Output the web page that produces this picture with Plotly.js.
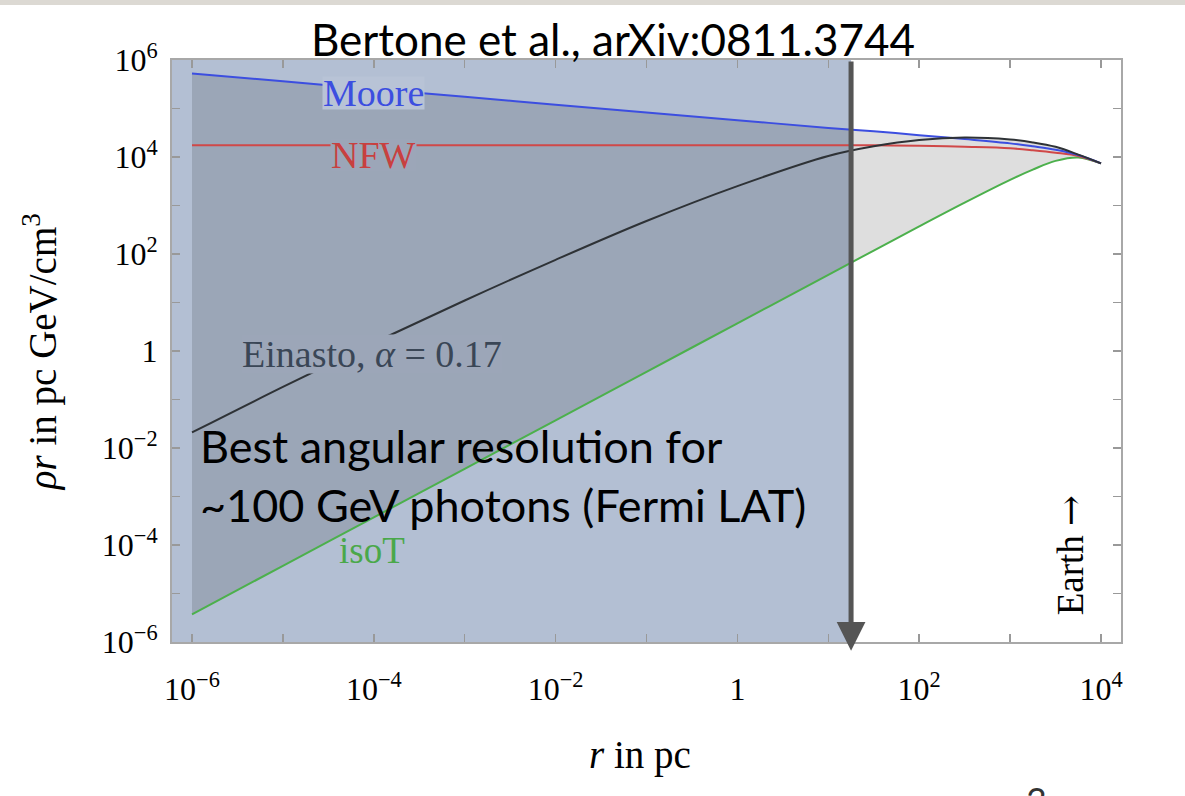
<!DOCTYPE html>
<html>
<head>
<meta charset="utf-8">
<script src="https://cdn.plot.ly/plotly-3.0.1.min.js"></script>
<style>
  html, body { margin: 0; padding: 0; background: #ffffff; }
  #chart { width: 1185px; height: 796px; }
</style>
</head>
<body>
<div id="chart"></div>
<script>
// Galactocentric radius r in pc (common grid for all profiles)
const radius = [1e-6, 1e-5, 1e-4, 1e-3, 1e-2, 1e-1, 1, 10, 31.6, 100, 316, 1000, 1778, 3162, 5623, 10000];

// rho * r in pc GeV/cm^3 for each dark-matter halo profile
const moore   = [5.25e5, 3.63e5, 2.51e5, 1.74e5, 1.20e5, 8.3e4, 5.75e4, 3.98e4, 3.39e4, 2.82e4, 2.34e4, 1.91e4, 1.66e4, 1.41e4, 1.10e4, 7.4e3];
const nfw     = [1.74e4, 1.74e4, 1.74e4, 1.74e4, 1.74e4, 1.74e4, 1.74e4, 1.74e4, 1.74e4, 1.70e4, 1.62e4, 1.51e4, 1.38e4, 1.23e4, 1.05e4, 7.4e3];
const einasto = [2.09e-2, 0.182, 1.48, 11.0, 75.9, 479, 2512, 1.05e4, 1.66e4, 2.24e4, 2.51e4, 2.29e4, 2.0e4, 1.62e4, 1.12e4, 7.4e3];
const isoT    = [3.72e-6, 3.72e-5, 3.72e-4, 3.72e-3, 3.72e-2, 0.372, 3.72, 37.2, 117.6, 372, 1148, 3388, 5495, 8318, 9772, 7.4e3];

// Radius below which the LAT angular resolution cannot resolve structure (pc)
const fermiCutoff = 17.8;

// Axis ticks: every decade, labelled every second decade
const xTickVals = [1e-6, 1e-5, 1e-4, 1e-3, 1e-2, 1e-1, 1, 10, 100, 1000, 10000];
const xTickText = ['10<sup>−6</sup>', '', '10<sup>−4</sup>', '', '10<sup>−2</sup>', '', '1', '', '10<sup>2</sup>', '', '10<sup>4</sup>'];
const yTickVals = [1e-6, 1e-5, 1e-4, 1e-3, 1e-2, 1e-1, 1, 10, 100, 1000, 1e4, 1e5, 1e6];
const yTickText = ['10<sup>−6</sup>', '', '10<sup>−4</sup>', '', '10<sup>−2</sup>', '', '1', '', '10<sup>2</sup>', '', '10<sup>4</sup>', '', '10<sup>6</sup>'];

// Upper envelope of the profiles bounds the shaded band
const upper = radius.map((_, i) => Math.max(moore[i], nfw[i], einasto[i], isoT[i]));

const serif = 'Liberation Serif, Times New Roman, serif';
const sans = 'Lato, Open Sans, sans-serif';

const panelColor = '#b3bfd3';      // translucent panel over white
const panelBandColor = '#9ca6b8';  // panel seen through the shaded band

const traces = [
  { x: radius, y: isoT, mode: 'lines', line: { width: 0, shape: 'spline' }, hoverinfo: 'skip', showlegend: false },
  { x: radius, y: upper, mode: 'lines', fill: 'tonexty', fillcolor: 'rgba(0,0,0,0.13)',
    line: { width: 0, shape: 'spline' }, hoverinfo: 'skip', showlegend: false },
  { name: 'isoT', x: radius, y: isoT, mode: 'lines', line: { color: '#4cb04c', width: 2, shape: 'spline' } },
  { name: 'NFW', x: radius, y: nfw, mode: 'lines', line: { color: '#d04848', width: 2, shape: 'spline' } },
  { name: 'Moore', x: radius, y: moore, mode: 'lines', line: { color: '#3c4ee0', width: 2, shape: 'spline' } },
  { name: 'Einasto', x: radius, y: einasto, mode: 'lines', line: { color: '#2e3236', width: 2, shape: 'spline' } }
];

const lg = Math.log10;

const annotations = [
  { text: 'Bertone et al., arXiv:0811.3744', xref: 'paper', yref: 'paper', x: 0.465, y: 1.0, yshift: -7,
    xanchor: 'center', yanchor: 'bottom', showarrow: false, font: { family: sans, size: 44, color: '#000' } },
  { text: 'Moore', x: lg(9.8e-5), y: lg(2.1e5), height: 32, showarrow: false, bgcolor: '#b8c3d6', borderpad: 0,
    font: { family: serif, size: 38, color: '#3c4ee0' } },
  { text: 'NFW', x: lg(1.0e-4), y: lg(1.1e4), height: 32, showarrow: false, bgcolor: panelBandColor, borderpad: 0,
    font: { family: serif, size: 38, color: '#c84040' } },
  { text: 'Einasto, <i>α</i> = 0.17', x: lg(9.5e-5), y: lg(0.85), height: 38, showarrow: false, bgcolor: panelBandColor, borderpad: 0,
    font: { family: serif, size: 38, color: '#3a4656' } },
  { text: 'isoT', x: lg(9.5e-5), y: lg(7.8e-5), showarrow: false,
    font: { family: serif, size: 37, color: '#4aa84a' } },
  { text: 'Earth <span style="font-family:DejaVu Serif">→</span>', xref: 'paper', x: (1094 - 172) / 949, y: lg(6e-5),
    textangle: -90, showarrow: false, font: { family: serif, size: 37, color: '#000' } },
  { text: 'Best angular resolution for<br>~100 GeV photons (Fermi LAT)', x: lg(1.15e-6), y: lg(2.7e-3),
    xanchor: 'left', yanchor: 'middle', align: 'left', showarrow: false,
    font: { family: sans, size: 45, color: '#000' } },
  // vertical arrow marking the resolution limit
  { text: '', x: lg(fermiCutoff), y: -6.18, ax: lg(fermiCutoff), ay: 6, axref: 'x', ayref: 'y',
    showarrow: true, arrowhead: 2, arrowsize: 1.15, arrowwidth: 5, arrowcolor: '#555555', standoff: 0 },
  { text: '<i>ρr</i> in pc GeV/cm<sup>3</sup>', xref: 'paper', yref: 'paper', x: (40 - 172) / 949, y: 0.498, textangle: -90,
    xanchor: 'center', yanchor: 'middle', showarrow: false, font: { family: serif, size: 39, color: '#000' } },
  { text: '<i>r</i> in pc', xref: 'paper', yref: 'paper', x: (640 - 172) / 949, y: -(755 - 642) / 582,
    xanchor: 'center', yanchor: 'middle', showarrow: false, font: { family: serif, size: 39, color: '#000' } },
  { text: '3', xref: 'paper', yref: 'paper', x: (1036 - 172) / 949, y: -(776 - 642) / 582,
    xanchor: 'center', yanchor: 'top', showarrow: false, font: { family: sans, size: 36, color: '#333' } }
];

const shapes = [
  // translucent panel over the unresolved inner region
  { type: 'rect', xref: 'paper', yref: 'paper', x0: 0, x1: (lg(fermiCutoff) + 6.22) / 10.44, y0: 0, y1: 1,
    fillcolor: panelColor, line: { width: 0 }, layer: 'below' },
  // slide background strip along the top
  { type: 'rect', xref: 'paper', yref: 'paper', x0: -0.2, x1: 1.1, y0: 1.0945, y1: 1.12,
    fillcolor: '#dcd9d3', line: { width: 0 }, layer: 'below' }
];

const axisCommon = {
  type: 'log', showgrid: false, zeroline: false, showline: true, mirror: 'allticks',
  linecolor: '#a8a8a8', linewidth: 2, ticks: 'inside', ticklen: 8, tickwidth: 1.5, tickcolor: '#999999',
  tickmode: 'array', tickfont: { family: serif, size: 32, color: '#000' }
};

const layout = {
  width: 1185, height: 796,
  margin: { l: 172, r: 64, t: 60, b: 154 },
  paper_bgcolor: '#ffffff', plot_bgcolor: '#ffffff',
  showlegend: false,
  xaxis: Object.assign({}, axisCommon, { range: [-6.22, 4.22], tickvals: xTickVals, ticktext: xTickText, ticklabelstandoff: 18 }),
  yaxis: Object.assign({}, axisCommon, { range: [-6, 6], tickvals: yTickVals, ticktext: yTickText, ticklabelstandoff: 6 }),
  annotations: annotations,
  shapes: shapes
};

Plotly.newPlot('chart', traces, layout, { staticPlot: true, displayModeBar: false });
</script>
</body>
</html>
